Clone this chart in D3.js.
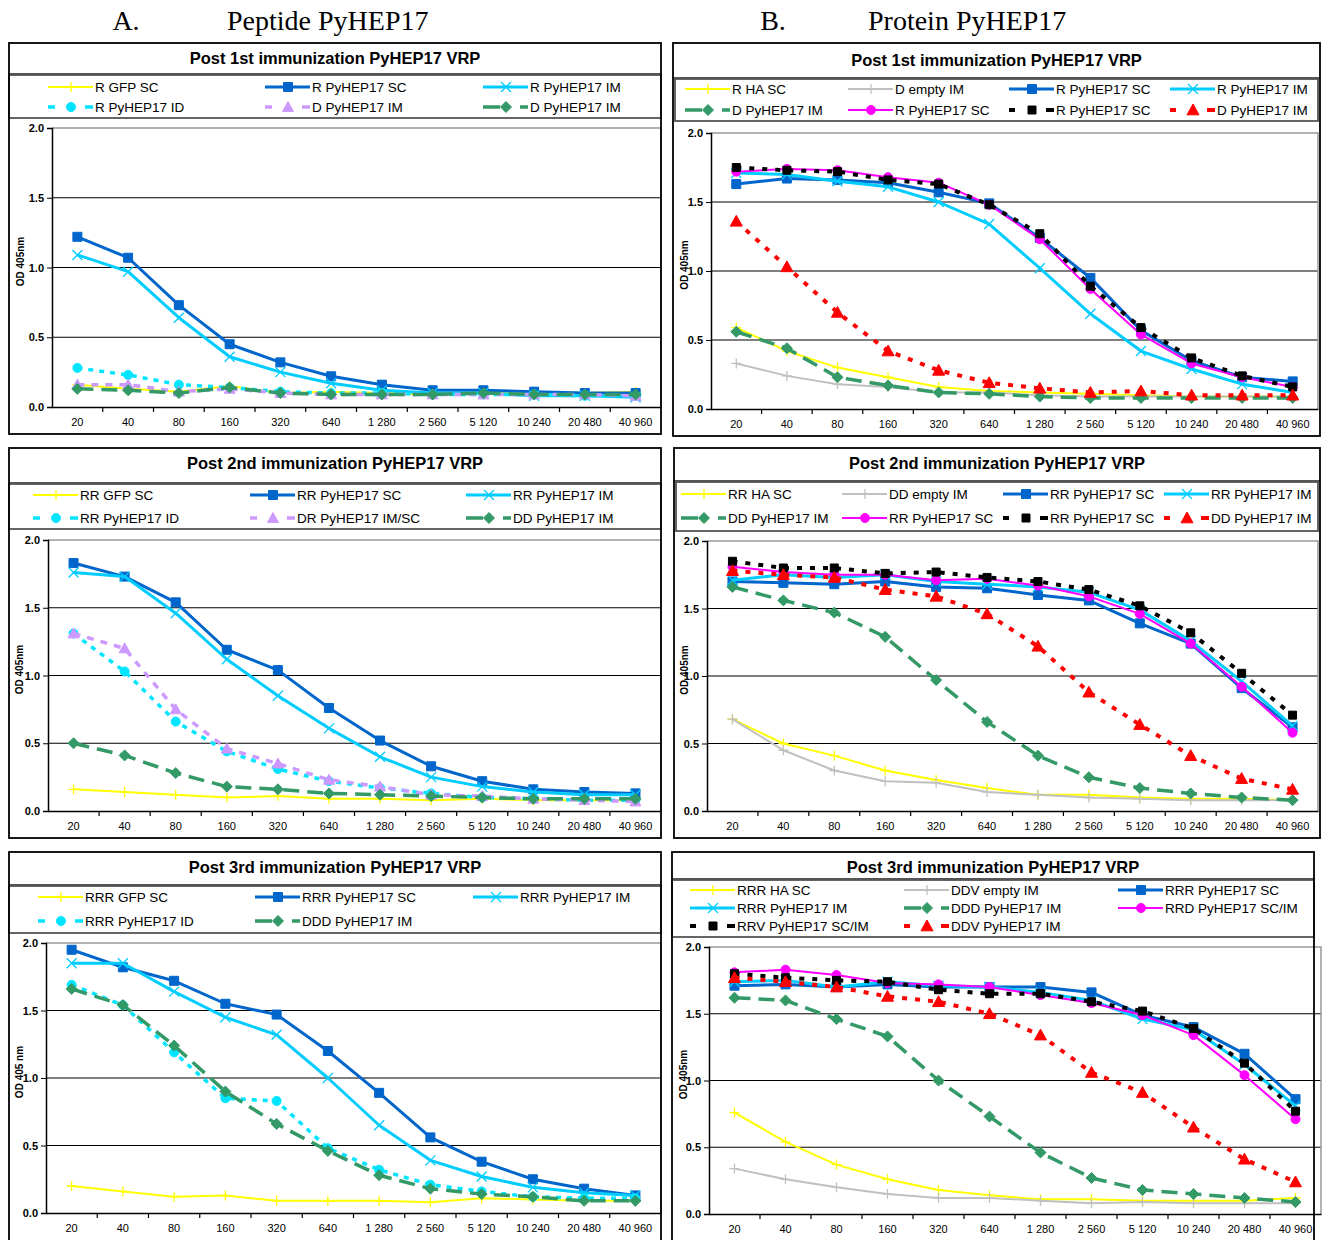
<!DOCTYPE html>
<html>
<head>
<meta charset="utf-8">
<script src="https://cdn.jsdelivr.net/npm/d3@7"></script>
<style>
  body { margin: 0; background: #fff; }
  svg { display: block; }
  text { font-family: Arial, "Liberation Sans", sans-serif; }
</style>
</head>
<body>
<svg id="chart" width="1327" height="1240"></svg>
<script>
// dilution categories (x axis)
const dilutions = ["20", "40", "80", "160", "320", "640", "1 280", "2 560", "5 120", "10 240", "20 480", "40 960"];
const yTicks = [0, 0.5, 1.0, 1.5, 2.0];

// A. Peptide, post 1st
const a1GfpSc = [0.16, 0.13, 0.11, 0.15, 0.10, 0.11, 0.10, 0.09, 0.10, 0.11, 0.10, 0.11];
const a1Sc = [1.22, 1.07, 0.73, 0.45, 0.32, 0.22, 0.16, 0.12, 0.12, 0.11, 0.10, 0.10];
const a1Im = [1.09, 0.97, 0.64, 0.36, 0.25, 0.17, 0.12, 0.10, 0.10, 0.08, 0.08, 0.07];
const a1Id = [0.28, 0.23, 0.16, 0.14, 0.11, 0.10, 0.10, 0.09, 0.09, 0.09, 0.08, 0.08];
const a1DImLav = [0.16, 0.16, 0.11, 0.13, 0.10, 0.09, 0.09, 0.09, 0.09, 0.09, 0.09, 0.08];
const a1DImGreen = [0.13, 0.12, 0.10, 0.14, 0.10, 0.09, 0.09, 0.09, 0.10, 0.09, 0.09, 0.09];

// A. Peptide, post 2nd
const a2GfpSc = [0.16, 0.14, 0.12, 0.10, 0.11, 0.09, 0.09, 0.08, 0.09, 0.08, 0.08, 0.08];
const a2Sc = [1.83, 1.73, 1.54, 1.19, 1.04, 0.76, 0.52, 0.33, 0.22, 0.16, 0.14, 0.13];
const a2Im = [1.76, 1.73, 1.46, 1.12, 0.85, 0.61, 0.40, 0.25, 0.18, 0.14, 0.12, 0.12];
const a2Id = [1.31, 1.03, 0.66, 0.44, 0.31, 0.22, 0.17, 0.13, 0.10, 0.09, 0.08, 0.08];
const a2DrImSc = [1.31, 1.20, 0.75, 0.46, 0.35, 0.23, 0.18, 0.12, 0.11, 0.09, 0.08, 0.07];
const a2DdIm = [0.50, 0.41, 0.28, 0.18, 0.16, 0.13, 0.12, 0.11, 0.10, 0.09, 0.09, 0.09];

// A. Peptide, post 3rd
const a3GfpSc = [0.20, 0.16, 0.12, 0.13, 0.09, 0.09, 0.09, 0.08, 0.11, 0.10, 0.09, 0.09];
const a3Sc = [1.95, 1.82, 1.72, 1.55, 1.47, 1.20, 0.89, 0.56, 0.38, 0.25, 0.18, 0.13];
const a3Im = [1.85, 1.85, 1.64, 1.45, 1.32, 1.00, 0.65, 0.39, 0.27, 0.19, 0.15, 0.13];
const a3Id = [1.69, 1.54, 1.19, 0.85, 0.83, 0.48, 0.32, 0.21, 0.16, 0.12, 0.11, 0.11];
const a3DddIm = [1.66, 1.54, 1.24, 0.90, 0.66, 0.46, 0.28, 0.18, 0.14, 0.12, 0.09, 0.09];

// B. Protein, post 1st
const b1HaSc = [0.59, 0.42, 0.30, 0.23, 0.16, 0.13, 0.12, 0.11, 0.10, 0.09, 0.09, 0.09];
const b1EmptyIm = [0.33, 0.24, 0.18, 0.16, 0.12, 0.12, 0.10, 0.09, 0.09, 0.09, 0.09, 0.09];
const b1ScBlue = [1.63, 1.67, 1.66, 1.64, 1.57, 1.49, 1.24, 0.95, 0.57, 0.35, 0.23, 0.20];
const b1ImCyan = [1.71, 1.70, 1.65, 1.61, 1.50, 1.34, 1.02, 0.69, 0.42, 0.29, 0.18, 0.12];
const b1DImGreen = [0.56, 0.44, 0.23, 0.17, 0.12, 0.11, 0.09, 0.08, 0.08, 0.08, 0.08, 0.08];
const b1ScMagenta = [1.72, 1.74, 1.73, 1.68, 1.64, 1.48, 1.23, 0.87, 0.54, 0.33, 0.23, 0.16];
const b1ScBlack = [1.75, 1.73, 1.72, 1.66, 1.63, 1.48, 1.27, 0.89, 0.59, 0.37, 0.24, 0.16];
const b1DImRed = [1.36, 1.03, 0.70, 0.42, 0.28, 0.19, 0.15, 0.12, 0.13, 0.10, 0.10, 0.10];

// B. Protein, post 2nd
const b2HaSc = [0.68, 0.50, 0.41, 0.30, 0.23, 0.17, 0.12, 0.12, 0.10, 0.09, 0.09, 0.08];
const b2EmptyIm = [0.68, 0.45, 0.30, 0.22, 0.21, 0.14, 0.12, 0.10, 0.09, 0.08, 0.08, 0.08];
const b2ScBlue = [1.70, 1.69, 1.68, 1.70, 1.66, 1.65, 1.60, 1.56, 1.39, 1.24, 0.91, 0.62];
const b2ImCyan = [1.71, 1.75, 1.73, 1.75, 1.70, 1.68, 1.66, 1.62, 1.49, 1.26, 0.96, 0.63];
const b2DdImGreen = [1.66, 1.56, 1.47, 1.29, 0.97, 0.66, 0.41, 0.25, 0.17, 0.13, 0.10, 0.08];
const b2ScMagenta = [1.81, 1.77, 1.75, 1.75, 1.71, 1.72, 1.67, 1.59, 1.46, 1.24, 0.92, 0.58];
const b2ScBlack = [1.85, 1.80, 1.80, 1.76, 1.77, 1.73, 1.70, 1.64, 1.52, 1.32, 1.02, 0.71];
const b2DdImRed = [1.78, 1.75, 1.73, 1.64, 1.59, 1.46, 1.22, 0.88, 0.64, 0.41, 0.24, 0.16];

// B. Protein, post 3rd
const b3HaSc = [0.76, 0.54, 0.37, 0.26, 0.18, 0.14, 0.11, 0.11, 0.10, 0.10, 0.10, 0.12];
const b3EmptyIm = [0.34, 0.26, 0.20, 0.15, 0.12, 0.12, 0.10, 0.08, 0.09, 0.08, 0.08, 0.08];
const b3ScBlue = [1.71, 1.72, 1.70, 1.72, 1.70, 1.70, 1.70, 1.66, 1.49, 1.40, 1.20, 0.86];
const b3ImCyan = [1.74, 1.75, 1.70, 1.74, 1.71, 1.70, 1.66, 1.60, 1.46, 1.38, 1.12, 0.81];
const b3DddImGreen = [1.62, 1.60, 1.46, 1.33, 1.00, 0.73, 0.46, 0.27, 0.18, 0.15, 0.12, 0.09];
const b3RrdMagenta = [1.81, 1.83, 1.79, 1.73, 1.72, 1.70, 1.64, 1.58, 1.49, 1.34, 1.04, 0.71];
const b3RrvBlack = [1.80, 1.77, 1.75, 1.74, 1.68, 1.65, 1.65, 1.59, 1.52, 1.39, 1.13, 0.77];
const b3DdvRed = [1.77, 1.74, 1.70, 1.63, 1.59, 1.50, 1.34, 1.06, 0.91, 0.65, 0.41, 0.24];

const styles = {
  yellow: { color: "#ffff00", width: 2, dash: null, marker: "plus", size: 5 },
  gray: { color: "#c0c0c0", width: 2, dash: null, marker: "plus", size: 5 },
  blue: { color: "#0066cc", width: 3, dash: null, marker: "square", size: 4.5 },
  cyan: { color: "#00ccff", width: 3, dash: null, marker: "cross", size: 5 },
  cyanDot: { color: "#00e5ff", width: 3.5, dash: "5 6", marker: "circle", size: 4.5, legLeft: 7 },
  lavender: { color: "#cc99ff", width: 3.5, dash: "7 7", marker: "triangle", size: 5.5, legLeft: 7 },
  green: { color: "#339966", width: 3.5, dash: "16 8", marker: "diamond", size: 5.5, legLeft: 17 },
  magenta: { color: "#ff00ff", width: 2, dash: null, marker: "circle", size: 4.5 },
  black: { color: "#000000", width: 4, dash: "5 8", marker: "square", size: 4, legLeft: 6 },
  red: { color: "#ff0000", width: 4, dash: "5 8", marker: "triangle", size: 6, legLeft: 6 },
};

const panels = [
  {
    title: "Post 1st immunization PyHEP17 VRP", yLabel: "OD 405nm",
    box: { x0: 9, x1: 661, y0: 43, y1: 434, titleY: 58, titleBot: 74, legBot: 118, legInset: 0 },
    legRows: [87, 107], legCols: [48, 265, 483],
    plot: { l: 52, r: 661, t: 128, b: 407, yLabelX: 20 },
    series: [
      { label: "R GFP SC", style: "yellow", values: a1GfpSc },
      { label: "R PyHEP17 SC", style: "blue", values: a1Sc },
      { label: "R PyHEP17 IM", style: "cyan", values: a1Im },
      { label: "R PyHEP17 ID", style: "cyanDot", values: a1Id },
      { label: "D PyHEP17 IM", style: "lavender", values: a1DImLav },
      { label: "D PyHEP17 IM", style: "green", values: a1DImGreen },
    ],
  },
  {
    title: "Post 2nd immunization PyHEP17 VRP", yLabel: "OD 405nm",
    box: { x0: 9, x1: 661, y0: 448, y1: 838, titleY: 463, titleBot: 483, legBot: 529, legInset: 0 },
    legRows: [495, 518], legCols: [33, 250, 466],
    plot: { l: 48, r: 661, t: 540, b: 811, yLabelX: 19 },
    series: [
      { label: "RR GFP SC", style: "yellow", values: a2GfpSc },
      { label: "RR PyHEP17 SC", style: "blue", values: a2Sc },
      { label: "RR PyHEP17 IM", style: "cyan", values: a2Im },
      { label: "RR PyHEP17 ID", style: "cyanDot", values: a2Id },
      { label: "DR PyHEP17 IM/SC", style: "lavender", values: a2DrImSc },
      { label: "DD PyHEP17 IM", style: "green", values: a2DdIm },
    ],
  },
  {
    title: "Post 3rd immunization PyHEP17 VRP", yLabel: "OD 405 nm",
    box: { x0: 9, x1: 661, y0: 852, y1: 1260, titleY: 867, titleBot: 885, legBot: 933, legInset: 0 },
    legRows: [897, 921], legCols: [38, 255, 473],
    plot: { l: 46, r: 661, t: 943, b: 1213, yLabelX: 19 },
    series: [
      { label: "RRR GFP SC", style: "yellow", values: a3GfpSc },
      { label: "RRR PyHEP17 SC", style: "blue", values: a3Sc },
      { label: "RRR PyHEP17 IM", style: "cyan", values: a3Im },
      { label: "RRR PyHEP17 ID", style: "cyanDot", values: a3Id },
      { label: "DDD PyHEP17 IM", style: "green", values: a3DddIm },
    ],
  },
  {
    title: "Post 1st immunization PyHEP17 VRP", yLabel: "OD 405nm",
    box: { x0: 673, x1: 1320, y0: 43, y1: 436, titleY: 60, titleBot: 78, legBot: 121, legInset: 2 },
    legRows: [89, 110], legCols: [685, 848, 1009, 1170],
    plot: { l: 711, r: 1318, t: 133, b: 409, yLabelX: 684 },
    series: [
      { label: "R HA SC", style: "yellow", values: b1HaSc },
      { label: "D empty IM", style: "gray", values: b1EmptyIm },
      { label: "R PyHEP17 SC", style: "blue", values: b1ScBlue },
      { label: "R PyHEP17 IM", style: "cyan", values: b1ImCyan },
      { label: "D PyHEP17 IM", style: "green", values: b1DImGreen },
      { label: "R PyHEP17 SC", style: "magenta", values: b1ScMagenta },
      { label: "R PyHEP17 SC", style: "black", values: b1ScBlack },
      { label: "D PyHEP17 IM", style: "red", values: b1DImRed },
    ],
  },
  {
    title: "Post 2nd immunization PyHEP17 VRP", yLabel: "OD 405nm",
    box: { x0: 674, x1: 1320, y0: 448, y1: 838, titleY: 463, titleBot: 481, legBot: 531, legInset: 2 },
    legRows: [494, 518], legCols: [681, 842, 1003, 1164],
    plot: { l: 707, r: 1318, t: 541, b: 811, yLabelX: 684 },
    series: [
      { label: "RR HA SC", style: "yellow", values: b2HaSc },
      { label: "DD empty IM", style: "gray", values: b2EmptyIm },
      { label: "RR PyHEP17 SC", style: "blue", values: b2ScBlue },
      { label: "RR PyHEP17 IM", style: "cyan", values: b2ImCyan },
      { label: "DD PyHEP17 IM", style: "green", values: b2DdImGreen },
      { label: "RR PyHEP17 SC", style: "magenta", values: b2ScMagenta },
      { label: "RR PyHEP17 SC", style: "black", values: b2ScBlack },
      { label: "DD PyHEP17 IM", style: "red", values: b2DdImRed },
    ],
  },
  {
    title: "Post 3rd immunization PyHEP17 VRP", yLabel: "OD 405nm",
    box: { x0: 672, x1: 1314, y0: 852, y1: 1260, titleY: 867, titleBot: 879, legBot: 937, legInset: 0 },
    legRows: [890, 908, 926], legCols: [690, 904, 1118],
    plot: { l: 709, r: 1321, t: 947, b: 1214, yLabelX: 683 },
    series: [
      { label: "RRR HA SC", style: "yellow", values: b3HaSc },
      { label: "DDV empty IM", style: "gray", values: b3EmptyIm },
      { label: "RRR PyHEP17 SC", style: "blue", values: b3ScBlue },
      { label: "RRR PyHEP17 IM", style: "cyan", values: b3ImCyan },
      { label: "DDD PyHEP17 IM", style: "green", values: b3DddImGreen },
      { label: "RRD PyHEP17 SC/IM", style: "magenta", values: b3RrdMagenta },
      { label: "RRV PyHEP17 SC/IM", style: "black", values: b3RrvBlack },
      { label: "DDV PyHEP17 IM", style: "red", values: b3DdvRed },
    ],
  },
];

const svg = d3.select("#chart");
const serif = "'Liberation Serif', 'Times New Roman', serif";

// section headers
svg.append("text").attr("x", 126).attr("y", 30).attr("text-anchor", "middle")
  .style("font-family", serif).attr("font-size", 28).text("A.");
svg.append("text").attr("x", 227).attr("y", 30)
  .style("font-family", serif).attr("font-size", 28).text("Peptide PyHEP17");
svg.append("text").attr("x", 773).attr("y", 30).attr("text-anchor", "middle")
  .style("font-family", serif).attr("font-size", 28).text("B.");
svg.append("text").attr("x", 868).attr("y", 30)
  .style("font-family", serif).attr("font-size", 28).text("Protein PyHEP17");

function markerPath(kind, s) {
  if (kind === "plus") return `M${-s},0H${s}M0,${-s}V${s}`;
  if (kind === "cross") return `M${-s},${-s}L${s},${s}M${-s},${s}L${s},${-s}`;
  if (kind === "square") return `M${-s},${-s}H${s}V${s}H${-s}Z`;
  if (kind === "diamond") return `M0,${-s}L${s},0L0,${s}L${-s},0Z`;
  if (kind === "triangle") return `M0,${-s}L${s},${s * 0.8}H${-s}Z`;
  return d3.symbol(d3.symbolCircle, Math.PI * s * s)();
}

function drawMarker(g, st, cx, cy) {
  const stroked = st.marker === "plus" || st.marker === "cross";
  g.append("path")
    .attr("transform", `translate(${cx},${cy})`)
    .attr("d", markerPath(st.marker, st.size))
    .attr("fill", stroked ? "none" : st.color)
    .attr("stroke", st.color)
    .attr("stroke-width", stroked ? 1.3 : 1);
}

function drawPanel(p) {
  const g = svg.append("g");
  const b = p.box;

  // title box + legend box
  g.append("line").attr("x1", b.x0).attr("x2", b.x1).attr("y1", b.titleBot).attr("y2", b.titleBot)
    .attr("stroke", "#555").attr("stroke-width", 2);
  g.append("rect")
    .attr("x", b.x0 + b.legInset).attr("y", b.titleBot + 1)
    .attr("width", b.x1 - b.x0 - 2 * b.legInset).attr("height", b.legBot - b.titleBot - 1)
    .attr("fill", "none").attr("stroke", "#555").attr("stroke-width", 1.8);
  g.append("text").attr("x", (b.x0 + b.x1) / 2).attr("y", b.titleY)
    .attr("text-anchor", "middle").attr("dominant-baseline", "central")
    .attr("font-size", 16.5).attr("font-weight", "bold").text(p.title);

  // plot area
  const x = d3.scaleBand().domain(dilutions).range([p.plot.l, p.plot.r]).padding(0);
  const y = d3.scaleLinear().domain([0, 2]).range([p.plot.b, p.plot.t]);
  const cx = (i) => x(dilutions[i]) + x.bandwidth() / 2;

  g.append("g").selectAll("line").data(yTicks.filter((t) => t > 0 && t < 2)).join("line")
    .attr("x1", p.plot.l).attr("x2", p.plot.r).attr("y1", (d) => y(d)).attr("y2", (d) => y(d))
    .attr("stroke", "#000").attr("stroke-width", 1.2);
  g.append("path")
    .attr("d", `M${p.plot.l},${y(2)}H${p.plot.r}V${y(0)}`)
    .attr("fill", "none").attr("stroke", "#999").attr("stroke-width", 1.5);

  const yAxis = g.append("g").attr("transform", `translate(${p.plot.l},0)`)
    .call(d3.axisLeft(y).tickValues(yTicks).tickFormat(d3.format(".1f")).tickSize(5).tickPadding(3));
  yAxis.select(".domain").attr("stroke-width", 1.5);
  yAxis.selectAll("text").attr("font-size", 11).attr("font-weight", "bold")
    .style("font-family", "Arial, 'Liberation Sans', sans-serif").attr("fill", "#000");

  const xAxis = g.append("g").attr("transform", `translate(0,${p.plot.b})`)
    .call(d3.axisBottom(x).tickSize(0).tickPadding(11));
  xAxis.select(".domain").attr("stroke-width", 1.5);
  xAxis.selectAll("text").attr("font-size", 11)
    .style("font-family", "Arial, 'Liberation Sans', sans-serif").attr("fill", "#000");
  xAxis.selectAll(".boundary").data(dilutions.slice(1)).join("line")
    .attr("x1", (d) => x(d)).attr("x2", (d) => x(d)).attr("y1", 0).attr("y2", 5)
    .attr("stroke", "#000").attr("stroke-width", 1.2);

  g.append("text")
    .attr("transform", `translate(${p.plot.yLabelX},${(p.plot.t + p.plot.b) / 2 - 6}) rotate(-90)`)
    .attr("text-anchor", "middle").attr("dominant-baseline", "central")
    .attr("font-size", 10).attr("font-weight", "bold").text(p.yLabel);

  // series
  const line = d3.line().x((d, i) => cx(i)).y((d) => y(d));
  for (const s of p.series) {
    const st = styles[s.style];
    g.append("path").attr("d", line(s.values))
      .attr("fill", "none").attr("stroke", st.color).attr("stroke-width", st.width)
      .attr("stroke-dasharray", st.dash).attr("stroke-linejoin", "round");
    const mg = g.append("g");
    s.values.forEach((v, i) => drawMarker(mg, st, cx(i), y(v)));
  }

  // legend
  const nCols = p.legCols.length;
  p.series.forEach((s, i) => {
    const st = styles[s.style];
    const lx = p.legCols[i % nCols];
    const ly = p.legRows[Math.floor(i / nCols)];
    const lg = g.append("g");
    if (st.dash) {
      lg.append("line").attr("x1", lx).attr("x2", lx + st.legLeft).attr("y1", ly).attr("y2", ly)
        .attr("stroke", st.color).attr("stroke-width", st.width);
      lg.append("line").attr("x1", lx + 37).attr("x2", lx + 45).attr("y1", ly).attr("y2", ly)
        .attr("stroke", st.color).attr("stroke-width", st.width);
    } else {
      lg.append("line").attr("x1", lx).attr("x2", lx + 45).attr("y1", ly).attr("y2", ly)
        .attr("stroke", st.color).attr("stroke-width", st.width);
    }
    drawMarker(lg, st, lx + 23, ly);
    lg.append("text").attr("x", lx + 47).attr("y", ly).attr("dominant-baseline", "central")
      .attr("font-size", 13.5).text(s.label);
  });

  // panel border
  g.append("rect").attr("x", b.x0).attr("y", b.y0)
    .attr("width", b.x1 - b.x0).attr("height", b.y1 - b.y0)
    .attr("fill", "none").attr("stroke", "#000").attr("stroke-width", 1.8);
}

panels.forEach(drawPanel);
</script>
</body>
</html>
